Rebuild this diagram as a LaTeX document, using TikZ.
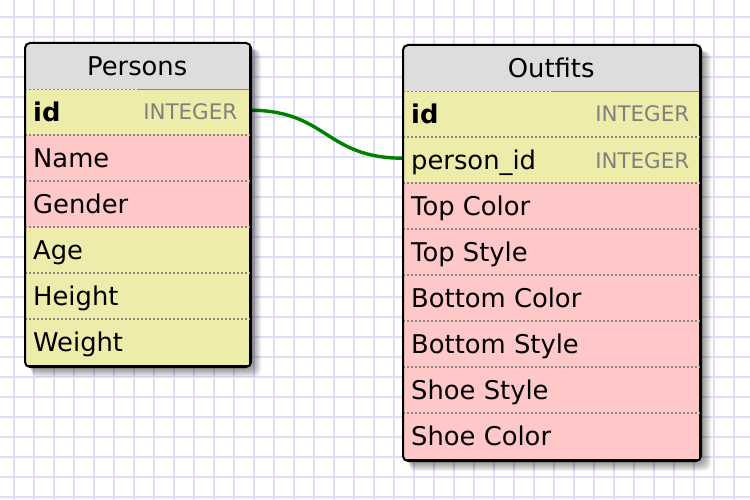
\documentclass[tikz,border=0pt]{standalone}
\usepackage{fontspec}
\setmainfont{DejaVu Sans}
\definecolor{gridc}{RGB}{221,221,245}
\definecolor{hdr}{RGB}{221,221,221}
\definecolor{ylw}{RGB}{238,236,170}
\definecolor{pnk}{RGB}{255,200,200}
\definecolor{sepc}{RGB}{136,136,136}
\definecolor{typec}{RGB}{128,128,128}
\definecolor{linkc}{RGB}{0,128,0}
\pgfdeclarelayer{gridl}
\pgfdeclarelayer{bgl}
\pgfsetlayers{gridl,bgl,main}
\newcommand\dbrow[6]{%
  \node[rowbox, fill=#5, minimum width=#4] (#1) at (#2,#3) {};
  \node[lbl] (#1-t) at ([xshift=8pt,yshift=-9.3pt]#1.west) {#6};}
\newcommand\dbtype[2]{%
  \node[typelbl] (#1-ty) at ([xshift=-#2,yshift=-7.8pt]#1.east) {INTEGER};}
% soft shadow: #1,#2 = top-left, #3,#4 = bottom-right of the table
\newcommand\softshadow[4]{%
  \foreach \k in {1,...,12}{
    \fill[black, opacity=0.05, rounded corners=7pt]
      (#1+6,#2+6) rectangle (#3+\k,#4+\k);
  }}
\begin{document}
\begin{tikzpicture}[x=1pt,y=-1pt,
  gridline/.style={draw=gridc, line width=1.6pt},
  tbl/.style={draw=black, line width=2pt, rounded corners=5pt, fill=white, inner sep=0pt, anchor=north west},
  rowbox/.style={draw=none, inner sep=0pt, minimum height=46pt, anchor=north west},
  lbl/.style={anchor=base west, inner sep=0pt, font=\fontsize{25.8}{30}\selectfont},
  titlelbl/.style={anchor=base, inner sep=0pt, font=\fontsize{25.8}{30}\selectfont},
  typelbl/.style={anchor=base east, inner sep=0pt, text=typec, font=\fontsize{21.4}{25}\selectfont},
  sep/.style={draw=sepc, line width=1.5pt, dash pattern=on 1.5pt off 2.5pt},
  sepsolid/.style={draw=sepc, line width=1.5pt},
  border/.style={draw=black, line width=2pt, rounded corners=5pt},
  link/.style={draw=linkc, line width=3.4pt}
]
\useasboundingbox (0,0) rectangle (750,500);
\begin{pgfonlayer}{gridl}
\fill[white] (0,0) rectangle (750,500);
\foreach \x in {14,34,...,754} \draw[gridline] (\x,0) -- (\x,500);
\foreach \y in {17,37,...,497} \draw[gridline] (0,\y) -- (750,\y);
\end{pgfonlayer}

% Persons table
\softshadow{25}{43}{249}{365}
\node[tbl, minimum width=224pt, minimum height=322pt] (persons) at (25,43) {};
\begin{scope}
\clip[rounded corners=5pt] (persons.north west) rectangle (persons.south east);
\node[rowbox, fill=hdr, minimum width=224pt] (p0) at (25,43) {};
\node[titlelbl] (p0-t) at ([yshift=-9.3pt]p0.center) {Persons};
\dbrow{p1}{25}{89}{224pt}{ylw}{\textbf{id}}
\dbrow{p2}{25}{135}{224pt}{pnk}{Name}
\dbrow{p3}{25}{181}{224pt}{pnk}{Gender}
\dbrow{p4}{25}{227}{224pt}{ylw}{Age}
\dbrow{p5}{25}{273}{224pt}{ylw}{Height}
\dbrow{p6}{25}{319}{224pt}{ylw}{Weight}
\dbtype{p1}{12pt}
\draw[sep] (p0.south west) -- (p0.south);
\draw[sepsolid] (p0.south) -- (p0.south east);
\foreach \r in {p2,p3,p4,p5,p6} \draw[sep] (\r.north west) -- (\r.north east);
\end{scope}
\draw[border] (persons.north west) rectangle (persons.south east);

% Outfits table
\softshadow{403}{45}{699}{459}
\node[tbl, minimum width=296pt, minimum height=414pt] (outfits) at (403,45) {};
\begin{scope}
\clip[rounded corners=5pt] (outfits.north west) rectangle (outfits.south east);
\node[rowbox, fill=hdr, minimum width=296pt] (o0) at (403,45) {};
\node[titlelbl] (o0-t) at ([yshift=-9.3pt]o0.center) {Outfits};
\dbrow{o1}{403}{91}{296pt}{ylw}{\textbf{id}}
\dbrow{o2}{403}{137}{296pt}{ylw}{person\_id}
\dbrow{o3}{403}{183}{296pt}{pnk}{Top Color}
\dbrow{o4}{403}{229}{296pt}{pnk}{Top Style}
\dbrow{o5}{403}{275}{296pt}{pnk}{Bottom Color}
\dbrow{o6}{403}{321}{296pt}{pnk}{Bottom Style}
\dbrow{o7}{403}{367}{296pt}{pnk}{Shoe Style}
\dbrow{o8}{403}{413}{296pt}{pnk}{Shoe Color}
\dbtype{o1}{10pt}
\dbtype{o2}{10pt}
\draw[sep] (o0.south west) -- (o0.south);
\draw[sepsolid] (o0.south) -- (o0.south east);
\foreach \r in {o2,o3,o4,o5,o6,o7,o8} \draw[sep] (\r.north west) -- (\r.north east);
\end{scope}
\draw[border] (outfits.north west) rectangle (outfits.south east);

% connector
\begin{pgfonlayer}{bgl}
\draw[link] ([yshift=2pt]p1.east) .. controls +(78,0) and +(-78,0) .. ([yshift=2pt]o2.west);
\end{pgfonlayer}
\end{tikzpicture}
\end{document}
